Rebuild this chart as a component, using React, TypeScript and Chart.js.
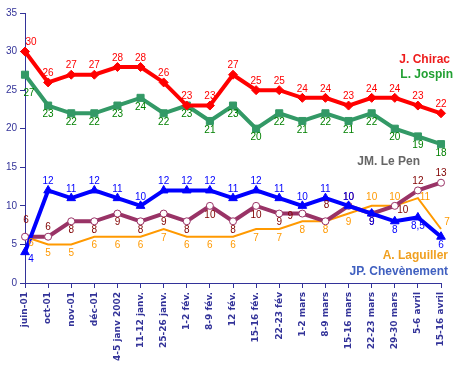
import React, { useEffect, useRef } from 'react';
import { Chart, registerables } from 'chart.js';

Chart.register(...registerables);

const categories = [
  'juin-01', 'oct-01', 'nov-01', 'déc-01', '4-5 janv 2002', '11-12 janv.',
  '25-26 janv.', '1-2 fév.', '8-9 fév.', '12 fév.', '15-16 fév.', '22-23 fév',
  '1-2 mars', '8-9 mars', '15-16 mars', '22-23 mars', '29-30 mars', '5-6 avril', '15-16 avril',
];

const chirac = [30, 26, 27, 27, 28, 28, 26, 23, 23, 27, 25, 25, 24, 24, 23, 24, 24, 23, 22];
const jospin = [27, 23, 22, 22, 23, 24, 22, 23, 21, 23, 20, 22, 21, 22, 21, 22, 20, 19, 18];
const lePen = [6, 6, 8, 8, 9, 8, 9, 8, 10, 8, 10, 9, 9, 8, 10, 9, 10, 12, 13];
const laguiller = [6, 5, 5, 6, 6, 6, 7, 6, 6, 6, 7, 7, 8, 8, 9, 10, 10, 11, 7];
const chevenement = [4, 12, 11, 12, 11, 10, 12, 12, 12, 11, 12, 11, 10, 11, 10, 9, 8, 8.5, 6];

const seriesNames = ['J. Chirac', 'L. Jospin', 'JM. Le Pen', 'A. Laguiller', 'JP. Chevènement'];

// label placement codes (style only)
const chiracLabelPos = ['ar', 'a', 'a', 'a', 'a', 'a', 'a', 'a', 'a', 'a', 'a', 'a', 'a', 'a', 'a', 'a', 'a', 'a', 'a'];
const jospinLabelPos = ['bb', 'b', 'b', 'b', 'b', 'b', 'b', 'b', 'b', 'b', 'b', 'b', 'b', 'b', 'b', 'b', 'b', 'b', 'b'];
const lePenLabelPos = ['aa', 'a', 'b', 'b', 'b', 'b', 'b', 'b', 'b', 'b', 'b', 'b', 'l', 'aa', 'a', 'b', 'rb', 'a', 'a'];
const laguillerLabelPos = ['br', 'b', 'b', 'b', 'b', 'b', 'b', 'b', 'b', 'b', 'b', 'b', 'b', 'b', 'b', 'a', 'a', 'r', 'ra'];
const chevLabelPos = ['br', 'a', 'a', 'a', 'a', 'a', 'a', 'a', 'a', 'a', 'a', 'a', 'a', 'a', 'a', 'b', 'b', 'b', 'b'];

const NAVY = '#333399';

const offsets: Record<string, [number, number]> = {
  a: [0, -9],
  aa: [1, -16],
  b: [0, 9],
  bb: [4, 19],
  ar: [6, -9],
  br: [6, 7],
  r: [7, -1],
  ra: [6, -7],
  rb: [8, 4],
  l: [-12, 3],
};

const pointLabelPlugin = {
  id: 'pointLabels',
  afterDatasetsDraw(chart: any) {
    const ctx = chart.ctx;
    ctx.save();
    ctx.font = '10px "Liberation Sans", Arial, sans-serif';
    ctx.textAlign = 'center';
    ctx.textBaseline = 'middle';
    chart.data.datasets.forEach((ds: any, i: number) => {
      const meta = chart.getDatasetMeta(i);
      meta.data.forEach((pt: any, j: number) => {
        const code = ds.labelPos[j];
        const off = offsets[code] || [0, -9];
        ctx.fillStyle = ds.labelColor;
        const v = ds.data[j];
        ctx.fillText(String(v).replace('.', ','), pt.x + off[0], pt.y + off[1]);
      });
    });
    ctx.restore();
  },
};

const seriesTextPlugin = {
  id: 'seriesText',
  afterDraw(chart: any) {
    const ctx = chart.ctx;
    const a = chart.chartArea;
    ctx.save();
    ctx.font = 'bold 12px "Liberation Sans", Arial, sans-serif';
    ctx.textAlign = 'right';
    ctx.textBaseline = 'middle';
    const items: [string, string, number, number][] = [
      [seriesNames[0], '#ee1c1c', a.right + 9, 60],
      [seriesNames[1], '#22a033', a.right + 12, 75],
      [seriesNames[2], '#666666', a.right - 21, 162],
      [seriesNames[3], '#f0a020', a.right + 7, 256],
      [seriesNames[4], '#4060c0', a.right + 7, 272],
    ];
    items.forEach(([t, c, x, y]) => {
      ctx.fillStyle = c;
      ctx.fillText(t, x, y);
    });
    ctx.restore();
  },
};

export default function App() {
  const ref = useRef<HTMLCanvasElement | null>(null);

  useEffect(() => {
    document.body.style.margin = '0';
    if (!ref.current) return;
    const chart = new Chart(ref.current, {
      type: 'line',
      data: {
        labels: categories,
        datasets: [
          {
            label: seriesNames[0],
            data: chirac,
            borderColor: '#ff0000',
            backgroundColor: '#ff0000',
            borderWidth: 4,
            pointStyle: 'rectRot',
            pointRadius: 4.5,
            pointBorderWidth: 1,
            order: 0,
            clip: false,
            labelPos: chiracLabelPos,
            labelColor: '#ff0000',
          } as any,
          {
            label: seriesNames[1],
            data: jospin,
            borderColor: '#339966',
            backgroundColor: '#339966',
            borderWidth: 4,
            pointStyle: 'rect',
            pointRadius: 5,
            pointBorderWidth: 1,
            order: 1,
            clip: false,
            labelPos: jospinLabelPos,
            labelColor: '#008000',
          } as any,
          {
            label: seriesNames[2],
            data: lePen,
            borderColor: '#993366',
            backgroundColor: '#ffffff',
            pointBorderColor: '#993366',
            pointBackgroundColor: '#ffffff',
            borderWidth: 4,
            pointStyle: 'circle',
            pointRadius: 3.5,
            pointBorderWidth: 1,
            order: 3,
            clip: false,
            labelPos: lePenLabelPos,
            labelColor: '#800000',
          } as any,
          {
            label: seriesNames[4],
            data: chevenement,
            borderColor: '#0000ff',
            backgroundColor: '#0000ff',
            borderWidth: 4,
            pointStyle: 'triangle',
            pointRadius: 5,
            pointBorderWidth: 1,
            order: 2,
            clip: false,
            labelPos: chevLabelPos,
            labelColor: '#0000ff',
          } as any,
          {
            label: seriesNames[3],
            data: laguiller,
            borderColor: '#ff9900',
            backgroundColor: '#ff9900',
            borderWidth: 2,
            pointRadius: 0,
            order: 4,
            clip: false,
            labelPos: laguillerLabelPos,
            labelColor: '#ff9900',
          } as any,
        ],
      },
      options: {
        animation: false,
        responsive: false,
        maintainAspectRatio: false,
        elements: { line: { tension: 0 } },
        layout: { padding: { top: 13, right: 19, left: 0, bottom: 0 } },
        plugins: {
          legend: { display: false },
          tooltip: { enabled: false },
          title: { display: false },
        },
        scales: {
          x: {
            offset: false,
            grid: {
              drawOnChartArea: false,
              drawTicks: true,
              tickLength: 5,
              color: NAVY,
            },
            border: { display: true, color: NAVY, width: 1 },
            ticks: {
              autoSkip: false,
              minRotation: 90,
              maxRotation: 90,
              padding: 4,
              color: NAVY,
              font: { family: '"DejaVu Sans", Verdana, sans-serif', size: 9, weight: 'bold' },
            },
            afterFit: (scale: any) => {
              scale.height = 84;
            },
          },
          y: {
            min: 0,
            max: 35,
            grid: {
              drawOnChartArea: false,
              drawTicks: true,
              tickLength: 5,
              color: NAVY,
            },
            border: { display: true, color: NAVY, width: 1 },
            ticks: {
              stepSize: 5,
              padding: 3,
              color: NAVY,
              font: { family: '"Liberation Sans", Arial, sans-serif', size: 10 },
            },
            afterFit: (scale: any) => {
              scale.width = 25;
            },
          },
        },
      } as any,
      plugins: [pointLabelPlugin, seriesTextPlugin],
    });
    return () => chart.destroy();
  }, []);

  return (
    <canvas ref={ref} width={460} height={367} style={{ display: 'block', width: 460, height: 367 }} />
  );
}
